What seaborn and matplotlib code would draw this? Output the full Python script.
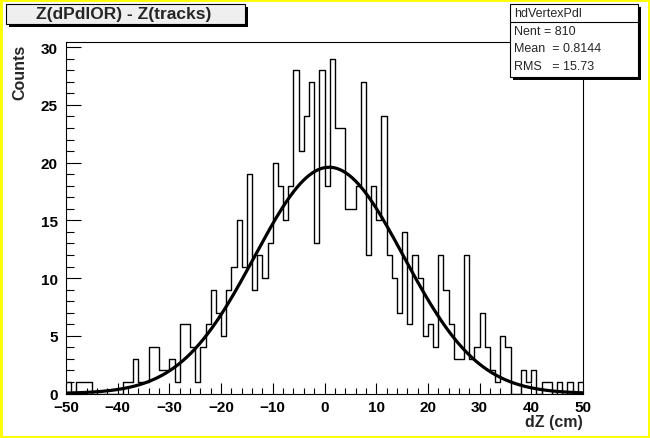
import numpy as np
import pandas as pd
import matplotlib
matplotlib.use("Agg")
import matplotlib.pyplot as plt
from matplotlib.patches import Rectangle
from matplotlib.ticker import MultipleLocator
import seaborn as sns

# histogram hdVertexPdl: 100 bins of 1 cm from -50 to 50
bin_range = (-50, 50)
counts = [
    1, 0, 1, 1, 1, 0, 0, 0, 0, 0,
    0, 1, 1, 3, 1, 1, 4, 4, 2, 2,
    3, 1, 6, 6, 4, 1, 4, 6, 9, 7,
    5, 9, 11, 15, 11, 19, 9, 12, 10, 13,
    20, 18, 15, 18, 28, 21, 24, 27, 13, 28,
    18, 29, 23, 23, 16, 16, 18, 27, 12, 18,
    15, 24, 12, 10, 7, 14, 6, 12, 10, 5,
    6, 4, 12, 9, 6, 3, 3, 12, 3, 4,
    7, 4, 2, 1, 5, 4, 0, 0, 2, 1,
    2, 0, 1, 1, 0, 1, 0, 1, 0, 1,
]

# gaussian fit drawn on top (parameters estimated from the curve)
fit_amp = 19.6
fit_mean = 0.9
fit_sigma = 14.4

title_text = "Z(dPdlOR) - Z(tracks)"
stats_name = "hdVertexPdl"
stats_lines = ["Nent = 810", "Mean  = 0.8144", "RMS   = 15.73"]

edges = np.linspace(bin_range[0], bin_range[1], len(counts) + 1)
centers = 0.5 * (edges[:-1] + edges[1:])
df = pd.DataFrame({"dz": centers, "counts": counts})

xs = np.linspace(-50, 50, 500)
fit_df = pd.DataFrame({"dz": xs,
                       "fit": fit_amp * np.exp(-0.5 * ((xs - fit_mean) / fit_sigma) ** 2)})

sns.set_theme(style="ticks")
plt.rcParams["font.family"] = ["Liberation Sans", "DejaVu Sans"]

W, H = 650, 439
fig = plt.figure(figsize=(W / 100, H / 100), dpi=100)
fig.patch.set_facecolor("white")


def fx(px):
    return px / W


def fy(py):
    return 1 - py / H


# frame of the pad
left, right, top, bottom = 66, 583, 43, 394.5
ax = fig.add_axes([fx(left), fy(bottom), fx(right - left), (bottom - top) / H])
ax.set_facecolor("white")

sns.histplot(data=df, x="dz", weights="counts", bins=len(counts), binrange=bin_range,
             element="step", fill=False, color="black", linewidth=1.0, ax=ax)
sns.lineplot(data=fit_df, x="dz", y="fit", color="black", linewidth=2.3, ax=ax)

ax.set_xlim(-50, 50)
ax.set_ylim(0, 30.45)
ax.set_xlabel("")
ax.set_ylabel("")

ax.xaxis.set_major_locator(MultipleLocator(10))
ax.xaxis.set_minor_locator(MultipleLocator(2))
ax.yaxis.set_major_locator(MultipleLocator(5))
ax.yaxis.set_minor_locator(MultipleLocator(1))
ax.tick_params(axis="both", which="both", direction="in", colors="black",
               width=0.8, labelsize=11)
ax.tick_params(axis="y", which="major", length=10.8, pad=6)
ax.tick_params(axis="y", which="minor", length=5.5)
ax.tick_params(axis="x", which="major", length=8, pad=5)
ax.tick_params(axis="x", which="minor", length=4.3)
for lab in ax.get_xticklabels() + ax.get_yticklabels():
    lab.set_fontweight("bold")
for s in ax.spines.values():
    s.set_visible(True)
    s.set_color("black")
    s.set_linewidth(0.8)

# axis titles, ROOT style
fig.text(fx(583), fy(423), "dZ (cm)", ha="right", va="center", fontsize=11.5,
         fontweight="bold")
fig.text(fx(20), fy(45), "Counts", ha="center", va="top", rotation=90, fontsize=11.5,
         fontweight="bold")

# title box with shadow
fig.patches.append(Rectangle((fx(9), fy(28)), fx(239), 20 / H, transform=fig.transFigure,
                             facecolor="black", edgecolor="none", zorder=3))
fig.patches.append(Rectangle((fx(6), fy(25)), fx(239), 20 / H, transform=fig.transFigure,
                             facecolor="#efefef", edgecolor="black", linewidth=0.8, zorder=4))
fig.text(fx(124), fy(15), title_text, ha="center", va="center", fontsize=12.5,
         fontweight="bold", zorder=5)

# stats box with shadow
sx0, sy0, sw, sh = 510, 5, 128, 73
fig.patches.append(Rectangle((fx(sx0 + 3), fy(sy0 + sh + 3)), fx(sw), sh / H,
                             transform=fig.transFigure, facecolor="black",
                             edgecolor="none", zorder=3))
fig.patches.append(Rectangle((fx(sx0), fy(sy0 + sh)), fx(sw), sh / H,
                             transform=fig.transFigure, facecolor="white",
                             edgecolor="black", linewidth=0.8, zorder=4))
fig.text(fx(514), fy(14), stats_name, ha="left", va="center", fontsize=9, zorder=5)
fig.lines.append(plt.Line2D([fx(sx0), fx(sx0 + sw)], [fy(23), fy(23)],
                            transform=fig.transFigure, color="black", linewidth=0.8, zorder=5))
for i, line in enumerate(stats_lines):
    fig.text(fx(514), fy(32 + i * 17.5), line, ha="left", va="center", fontsize=9, zorder=5)

# yellow canvas border
fig.patches.append(Rectangle((0, 0), 1, 1, transform=fig.transFigure, facecolor="none",
                             edgecolor="#ffff00", linewidth=3.5, zorder=10))

fig.savefig("out.png", dpi=100)
